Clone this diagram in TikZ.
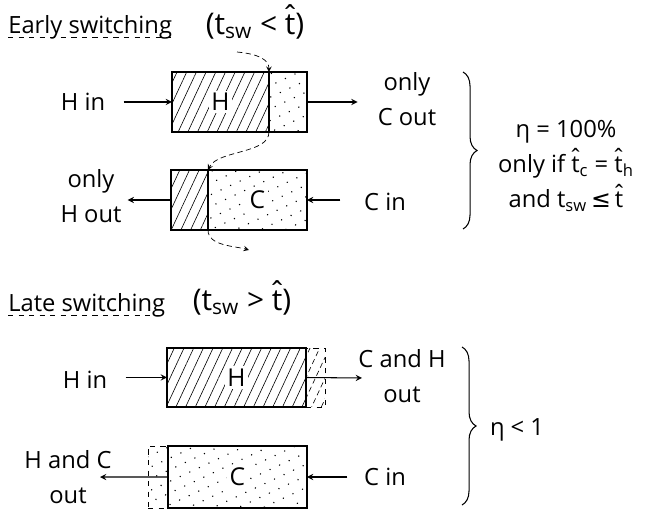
\documentclass[tikz,border=0pt]{standalone}
\usepackage{fontspec}
\setmainfont{Open Sans}
\newfontfamily\symfont{DejaVu Sans}
\usetikzlibrary{arrows, positioning, patterns.meta, decorations.pathreplacing}

\newcommand{\tsw}{t\textsubscript{sw}}
\newcommand{\that}{\ooalign{t\cr\hidewidth\raisebox{0.45ex}{ˆ}\hidewidth\cr}}

\begin{document}
\begin{tikzpicture}[
    x=0.02cm, y=-0.02cm,
    txt/.style={font=\fontsize{13.5}{20}\selectfont, align=center},
    head/.style={font=\fontsize{13.5}{16}\selectfont, anchor=base west, inner sep=0pt},
    cond/.style={font=\fontsize{17}{20}\selectfont},
    hpart/.style={draw, thick, pattern={Lines[angle=65, distance=5pt, line width=0.35pt]}, anchor=north west, inner sep=0pt, outer sep=0pt, minimum height=1.2cm},
    dpart/.style={draw, thick, pattern={Dots[angle=25, distance=6pt, radius=0.45pt]}, anchor=north west, inner sep=0pt, outer sep=0pt, minimum height=1.2cm},
    ext/.style={dashed, thin},
    tag/.style={fill=white, inner sep=1.5pt, font=\fontsize{14}{16}\selectfont},
    line/.style={draw, -stealth, semithick},
    swline/.style={draw, densely dashed, -stealth, thin},
    brc/.style={draw, decorate, decoration={brace, amplitude=8pt}, semithick}
]
\useasboundingbox (0,0) rectangle (650,514);

% Early switching
\node (etitle) [head] at (8,33) {Early switching};
\draw [dashed] ([yshift=-2.5pt]etitle.base west) -- ([yshift=-2.5pt]etitle.base east);
\node (econd) [cond] at (255,26) {(\tsw\ < \that)};

\node (eH) [hpart, minimum width=1.94cm] at (172,72) {};
\node (eHd) [dpart, minimum width=0.76cm] at (eH.north east) {};
\node (eC) [hpart, minimum width=0.74cm] at (171,170) {};
\node (eCd) [dpart, minimum width=1.98cm] at (eC.north east) {};
\node (eHt) [tag] at (eH) {H};
\node (eCt) [tag] at (eCd) {C};

\node (ehin) [txt] at (83,102) {H in};
\node (ecout) [txt] at (407,99) {only\\C out};
\node (ehout) [txt] at (91,196) {only\\H out};
\node (ecin) [txt] at (385,202) {C in};

\path [line, shorten <=7pt] (ehin.east |- eH.west) -- (eH.west);
\path [line, shorten >=8pt] (eHd.east) -- (ecout.west |- eHd.east);
\path [line] (eC.west) -- (ehout.east |- eC.west);
\path [line, shorten <=10pt] (ecin.west |- eCd.east) -- (eCd.east);

% switching front
\coordinate (sw1) at (237,52);
\coordinate (sw2) at (249,250);
\path [swline] (sw1) .. controls +(22,2) and +(0,-12) .. (eH.north east);
\path [swline] (eH.south east) .. controls +(0,22) and +(10,-20) .. (eC.north east);
\path [swline] (eC.south east) .. controls +(0,16) and +(-14,-4) .. (sw2);

\coordinate (eb1) at (463,72);
\coordinate (eb2) at (463,229);
\path [brc] (eb1) -- (eb2);
\node (eres) [txt] at (566,166) {η = 100\%\\only if \that\textsubscript{c} = \that\textsubscript{h}\\and \tsw\,{\symfont ≤}\,\that};

% Late switching
\node (ltitle) [head] at (8,311) {Late switching};
\draw [dashed] ([yshift=-2.5pt]ltitle.base west) -- ([yshift=-2.5pt]ltitle.base east);
\node (lcond) [cond] at (242,302) {(\tsw\ > \that)};

\node (lHx) [hpart, ext, minimum width=0.38cm, minimum height=1.18cm] at (306,348) {};
\node (lH) [hpart, minimum width=2.78cm, minimum height=1.18cm] at (167,348) {};
\node (lCx) [dpart, ext, minimum width=0.4cm, minimum height=1.24cm] at (148,446) {};
\node (lC) [dpart, minimum width=2.78cm, minimum height=1.24cm] at (168,446) {};
\node (lHt) [tag] at (lH) {H};
\node (lCt) [tag] at (lC) {C};

\node (lhin) [txt] at (85,380) {H in};
\node (lchout) [txt] at (402,376) {C and H\\out};
\node (lhcout) [txt] at (68,477) {H and C\\out};
\node (lcin) [txt] at (385,477) {C in};
\coordinate (chend) at (362,378);
\coordinate (hcend) at (100,477);

\path [line, shorten <=7pt] (lhin.east |- lH.west) -- (lH.west);
\path [line] (lH.east) -- (chend);
\path [line] (lC.west) -- (hcend);
\path [line, shorten <=6pt] (lcin.west |- lC.east) -- (lC.east);

\coordinate (lb1) at (462,347);
\coordinate (lb2) at (462,505);
\path [brc] (lb1) -- (lb2);
\node (lres) [txt] at (517,430) {η < 1};
\end{tikzpicture}
\end{document}
